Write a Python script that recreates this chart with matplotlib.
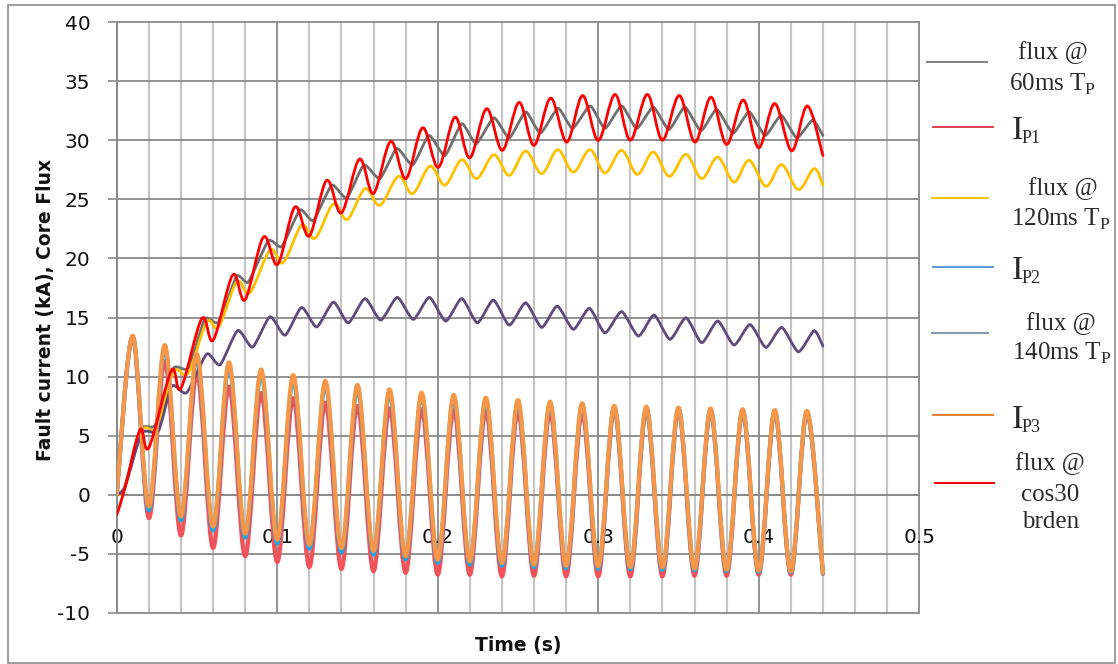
import matplotlib
matplotlib.use("Agg")
import matplotlib.pyplot as plt
import numpy as np
from matplotlib.path import Path
from matplotlib.patches import PathPatch, Rectangle
from matplotlib.lines import Line2D

plt.rcParams["mathtext.fontset"] = "custom"
plt.rcParams["mathtext.rm"] = "Liberation Serif"

# ---------------- data ----------------
# fault currents, sampled at every peak / trough (s, kA)
t_current = [0.00, 0.01, 0.02, 0.03, 0.04, 0.05, 0.06, 0.07, 0.08, 0.09,
             0.10, 0.11, 0.12, 0.13, 0.14, 0.15, 0.16, 0.17, 0.18, 0.19,
             0.20, 0.21, 0.22, 0.23, 0.24, 0.25, 0.26, 0.27, 0.28, 0.29,
             0.30, 0.31, 0.32, 0.33, 0.34, 0.35, 0.36, 0.37, 0.38, 0.39,
             0.40, 0.41, 0.42, 0.43, 0.44]
ip1 = [0.0, 13.3, -1.97, 11.3, -3.44, 10.3, -4.5, 9.15, -5.2, 8.6,
       -5.69, 8.17, -6.11, 7.8, -6.28, 7.52, -6.47, 7.32, -6.6, 7.24,
       -6.76, 7.18, -6.76, 7.1, -6.9, 7.05, -6.85, 7.0, -6.9, 6.95,
       -6.9, 7.2, -6.9, 7.15, -6.9, 7.1, -6.85, 7.05, -6.85, 7.0,
       -6.76, 6.95, -6.76, 6.9, -6.7]
ip2 = [0.0, 13.4, -1.3, 12.4, -2.15, 11.6, -3.0, 10.9, -3.6, 10.3,
       -4.1, 9.8, -4.55, 9.35, -4.85, 9.0, -5.05, 8.65, -5.45, 8.4,
       -5.75, 8.2, -5.9, 8.0, -6.0, 7.85, -6.12, 7.72, -6.22, 7.6,
       -6.25, 7.42, -6.3, 7.36, -6.35, 7.3, -6.4, 7.22, -6.45, 7.16,
       -6.5, 7.1, -6.55, 7.04, -6.65]
ip3 = [0.0, 13.45, -0.99, 12.67, -1.83, 11.9, -2.68, 11.2, -3.29, 10.6,
       -3.8, 10.13, -4.22, 9.65, -4.5, 9.29, -4.75, 8.92, -5.2, 8.64,
       -5.49, 8.45, -5.63, 8.22, -5.77, 8.02, -5.9, 7.88, -6.0, 7.74,
       -6.05, 7.52, -6.1, 7.46, -6.15, 7.38, -6.25, 7.3, -6.33, 7.24,
       -6.4, 7.17, -6.47, 7.1, -6.6]

# core flux, 60 ms primary time constant
t_flux60 = [0.0, 0.005, 0.0156, 0.024, 0.0353, 0.0446, 0.055, 0.0633, 0.0748, 0.082,
            0.0945, 0.1028, 0.1142, 0.1225, 0.134, 0.1433, 0.154, 0.164, 0.1745, 0.1844,
            0.1946, 0.2045, 0.215, 0.224, 0.235, 0.2446, 0.2548, 0.264, 0.275, 0.284,
            0.295, 0.3042, 0.3146, 0.324, 0.3343, 0.344, 0.354, 0.364, 0.3738, 0.384,
            0.394, 0.404, 0.414, 0.4237, 0.4336, 0.44]
flux60 = [0.0, 0.7, 5.6, 5.9, 10.7, 10.7, 14.9, 14.6, 18.5, 18.0,
          21.5, 21.0, 24.1, 23.2, 26.2, 25.1, 27.9, 26.75, 29.3, 27.9,
          30.4, 28.7, 31.4, 29.7, 31.9, 30.2, 32.4, 30.6, 32.7, 31.0,
          32.9, 31.0, 32.9, 31.0, 32.8, 30.9, 32.8, 30.8, 32.6, 30.6,
          32.4, 30.4, 32.1, 30.2, 31.7, 30.4]

# core flux, 120 ms primary time constant
t_flux120 = [0.0, 0.005, 0.0156, 0.025, 0.0353, 0.0446, 0.056, 0.0635, 0.0748, 0.083,
             0.0955, 0.1038, 0.1152, 0.1236, 0.135, 0.1437, 0.1547, 0.164, 0.1755, 0.1844,
             0.1952, 0.2045, 0.215, 0.2243, 0.235, 0.2446, 0.2548, 0.2648, 0.2748, 0.2845,
             0.2949, 0.3042, 0.3146, 0.3244, 0.3343, 0.3443, 0.3547, 0.3645, 0.3745, 0.3846,
             0.394, 0.4045, 0.4143, 0.4247, 0.4345, 0.44]
flux120 = [0.0, 0.6, 5.4, 5.7, 10.4, 10.3, 14.6, 14.2, 18.0, 17.1,
           20.7, 19.65, 22.8, 21.7, 24.6, 23.3, 25.9, 24.5, 26.94, 25.48,
           27.8, 26.2, 28.35, 26.75, 28.77, 27.03, 29.08, 27.17, 29.2, 27.3,
           29.2, 27.22, 29.14, 27.11, 29.0, 26.94, 28.8, 26.75, 28.57, 26.46,
           28.3, 26.1, 27.93, 25.82, 27.6, 26.2]

# core flux, 140 ms primary time constant
t_flux140 = [0.0, 0.005, 0.0156, 0.026, 0.0343, 0.0436, 0.056, 0.0644, 0.0754, 0.0847,
             0.0955, 0.1049, 0.1152, 0.1246, 0.135, 0.1443, 0.1547, 0.1645, 0.1748, 0.1848,
             0.1948, 0.205, 0.215, 0.2247, 0.2347, 0.2446, 0.2548, 0.2648, 0.2745, 0.2845,
             0.2945, 0.3042, 0.3146, 0.325, 0.3348, 0.3447, 0.3547, 0.3645, 0.3745, 0.3846,
             0.3946, 0.4045, 0.4143, 0.4247, 0.4345, 0.44]
flux140 = [0.0, 0.6, 5.2, 5.4, 9.2, 8.64, 11.9, 11.0, 13.9, 12.5,
           15.06, 13.5, 15.85, 14.2, 16.3, 14.55, 16.6, 14.78, 16.7, 14.84,
           16.7, 14.7, 16.6, 14.55, 16.47, 14.36, 16.24, 14.16, 15.96, 14.0,
           15.77, 13.7, 15.5, 13.43, 15.2, 13.15, 14.98, 12.87, 14.7, 12.67,
           14.4, 12.47, 14.16, 12.1, 13.88, 12.58]

# core flux, cos30 burden
t_cos30 = [0.0, 0.005, 0.0145, 0.0201, 0.034, 0.040, 0.053, 0.0602, 0.0723, 0.080,
           0.0914, 0.1003, 0.111, 0.120, 0.1308, 0.140, 0.1512, 0.160, 0.1707, 0.1802,
           0.1906, 0.2004, 0.2108, 0.220, 0.2305, 0.2403, 0.2507, 0.260, 0.2704, 0.2804,
           0.2903, 0.300, 0.3105, 0.320, 0.3306, 0.340, 0.3505, 0.3603, 0.3703, 0.380,
           0.3904, 0.400, 0.410, 0.4206, 0.4303, 0.44]
flux_cos30 = [-1.7, 0.5, 5.5, 4.0, 10.5, 9.0, 14.9, 13.1, 18.6, 16.5,
              21.8, 19.5, 24.35, 21.9, 26.6, 23.85, 28.4, 25.5, 29.9, 26.75,
              31.05, 27.7, 31.95, 28.5, 32.66, 29.14, 33.2, 29.56, 33.56, 29.84,
              33.78, 29.98, 33.87, 30.0, 33.87, 30.0, 33.78, 29.84, 33.64, 29.64,
              33.4, 29.36, 33.1, 29.1, 32.9, 28.7]

x_ticks = [0.0, 0.1, 0.2, 0.3, 0.4, 0.5]
x_tick_labels = ["0", "0.1", "0.2", "0.3", "0.4", "0.5"]
y_ticks = [-10, -5, 0, 5, 10, 15, 20, 25, 30, 35, 40]
y_tick_labels = ["-10", "-5", "0", "5", "10", "15", "20", "25", "30", "35", "40"]

# ---------------- figure ----------------
W, H = 1118, 664
fig = plt.figure(figsize=(W / 100, H / 100), dpi=100)


def fx(px):
    return px / W


def fy(py):
    return 1 - py / H


ax = fig.add_axes([fx(116.7), fy(613), (919.2 - 116.7) / W, (613 - 22) / H])
ax.set_xlim(0, 0.5)
ax.set_ylim(-10, 40)

grid_dark = "#8a8a8a"
grid_light = "#c4c4c4"

ax.set_xticks(x_ticks)
ax.set_xticklabels(x_tick_labels)
ax.set_xticks(np.arange(0, 0.5001, 0.02), minor=True)
ax.set_yticks(y_ticks)
ax.set_yticklabels(y_tick_labels)

for s in ("top", "right"):
    ax.spines[s].set_visible(False)
ax.spines["bottom"].set_position(("data", 0))
for s in ("bottom", "left"):
    ax.spines[s].set_color(grid_dark)
    ax.spines[s].set_linewidth(1.3)

ax.tick_params(axis="x", which="both", length=0, pad=24, labelsize=14.5,
               labelcolor="#111111")
ax.tick_params(axis="y", which="major", length=6.5, width=1.2, color=grid_dark,
               pad=12.5, labelsize=14.5, labelcolor="#111111")
ax.grid(which="major", axis="both", color=grid_dark, linewidth=1.3)
ax.grid(which="minor", axis="x", color=grid_light, linewidth=1.5)
ax.set_axisbelow(True)
for tick in (ax.xaxis.get_major_ticks() + ax.xaxis.get_minor_ticks()
             + ax.yaxis.get_major_ticks()):
    tick.gridline.set_clip_on(False)


def smooth_path(xs, ys, k=1.0 / 6):
    """Cubic Bezier path through the points (Excel-style smoothed line)."""
    pts = np.column_stack([xs, ys]).astype(float)
    n = len(pts)
    verts = [pts[0]]
    codes = [Path.MOVETO]
    for i in range(n - 1):
        p0 = pts[i - 1] if i > 0 else pts[i]
        p1 = pts[i]
        p2 = pts[i + 1]
        p3 = pts[i + 2] if i + 2 < n else pts[i + 1]
        verts += [p1 + (p2 - p0) * k, p2 - (p3 - p1) * k, p2]
        codes += [Path.CURVE4] * 3
    return Path(verts, codes)


def draw(xs, ys, color, lw, z, k=1.0 / 6, alpha=1.0):
    ax.add_patch(PathPatch(smooth_path(xs, ys, k), facecolor="none",
                           edgecolor=color, linewidth=lw, zorder=z,
                           capstyle="round", joinstyle="round", alpha=alpha))


draw(t_flux60, flux60, "#6f6f6f", 2.0, 3, k=0.09)
draw(t_current, ip1, "#f2525a", 3.0, 4)
draw(t_flux120, flux120, "#ffc000", 2.0, 5)
draw(t_current, ip2, "#18a8e6", 3.0, 6)
draw(t_flux140, flux140, "#5e4a7e", 2.0, 7, k=0.11)
draw(t_current, ip3, "#f79646", 3.0, 8)
draw(t_cos30, flux_cos30, "#ff0000", 2.0, 9)

# axis titles
fig.text(fx(46), fy(310), "Fault current (kA), Core Flux", rotation=90,
         fontsize=13.5, fontweight="bold", ha="center", va="center",
         color="#111111")
fig.text(fx(518), fy(645), "Time (s)", fontsize=13.5, fontweight="bold",
         ha="center", va="center", color="#111111")

# ---------------- legend ----------------
serif = "Liberation Serif"
txt_col = "#2b2b2b"


def leg_line(x0, x1, y, color):
    fig.add_artist(Line2D([fx(x0), fx(x1)], [fy(y), fy(y)], color=color,
                          linewidth=1.4, transform=fig.transFigure))


def leg_text(x, y, s, size=18):
    fig.text(fx(x), fy(y), s, fontsize=size, family=serif, ha="center",
             va="center", color=txt_col)


def leg_current(y_line, y_base, sub, color):
    leg_line(933, 993, y_line, color)
    fig.text(fx(1012), fy(y_base), "I", fontsize=24.5, family=serif,
             ha="left", va="baseline", color=txt_col)
    fig.text(fx(1021.5), fy(y_base + 3.5), sub, fontsize=13, family=serif,
             ha="left", va="baseline", color=txt_col)


leg_line(927, 987, 61.7, "#7f7f7f")
leg_text(1052.7, 52.3, "flux @")
leg_text(1052.8, 84, r"60ms T$_{\mathrm{P}}$")

leg_current(127.3, 139.3, "P1", "#e0404c")

leg_line(932, 988, 197.7, "#ffc000")
leg_text(1063.3, 188.3, "flux @")
leg_text(1060.7, 219.3, r"120ms T$_{\mathrm{P}}$")

leg_current(267.3, 279.3, "P2", "#5b9bd5")

leg_line(932, 988, 333.3, "#8496b0")
leg_text(1061.3, 323.3, "flux @")
leg_text(1061.7, 353.3, r"140ms T$_{\mathrm{P}}$")

leg_current(415, 428, "P3", "#ed7d31")

leg_line(935, 994, 483.3, "#ff0000")
leg_text(1050.3, 463.3, "flux @")
leg_text(1049.7, 495, "cos30")
leg_text(1050.8, 521.7, "brden")

# outer frame
fig.add_artist(Rectangle((fx(8), fy(663)), fx(1115) - fx(8), fy(5) - fy(663),
                         transform=fig.transFigure, facecolor="none",
                         edgecolor="#8c8c8c", linewidth=1.2))

fig.savefig("out.png", dpi=100)
